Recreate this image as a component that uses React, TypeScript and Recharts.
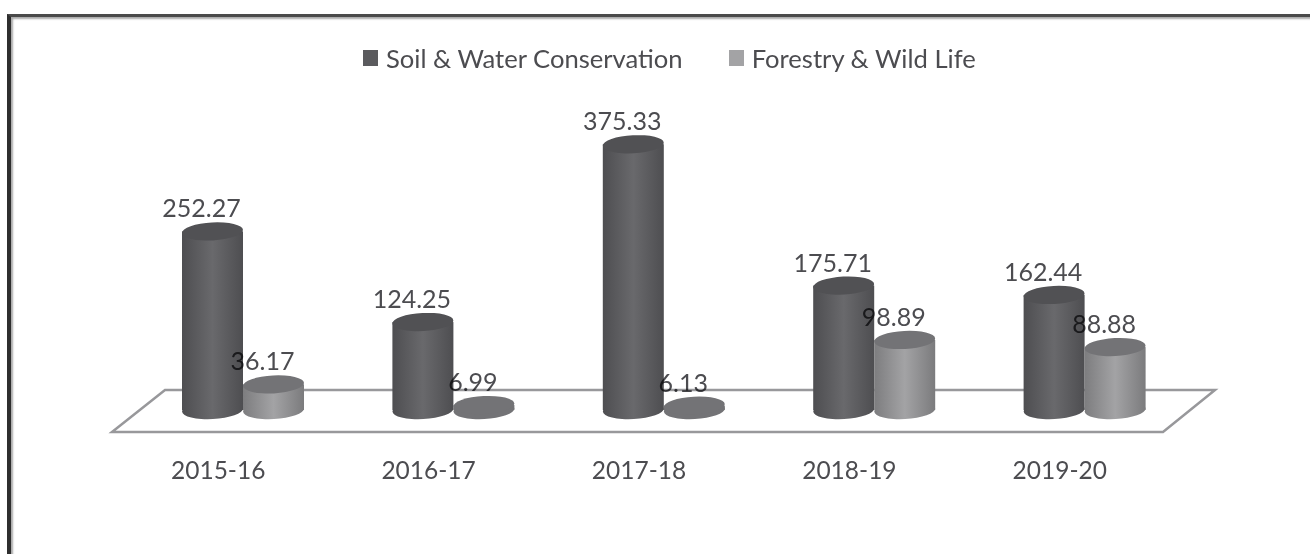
import React from "react";
import { BarChart, Bar, XAxis, YAxis, Legend, LabelList } from "recharts";

const categories = ["2015-16", "2016-17", "2017-18", "2018-19", "2019-20"];
const soilWater = [252.27, 124.25, 375.33, 175.71, 162.44];
const forestry = [36.17, 6.99, 6.13, 98.89, 88.88];
const rows = categories.map((c, i) => ({ category: c, soil: soilWater[i], forestry: forestry[i] }));

const FONT = "Lato, 'Open Sans', sans-serif";
const TEXT = "#4c4c50";
const RY = 9;

const palette: Record<string, { top: string; id: string }> = {
  soil: { top: "#515154", id: "soilBody" },
  forestry: { top: "#737376", id: "forestryBody" },
};

const Cylinder = (seriesKey: string) => (props: any) => {
  const { x, y, width, height } = props;
  const p = palette[seriesKey];
  const rx = width / 2;
  const cx = x + rx;
  const base = y + height;
  const tilt = (yy: number) => `rotate(-3 ${cx} ${yy})`;
  const bodyFill = height < 8 ? p.top : `url(#${p.id})`;
  return (
    <g>
      <ellipse cx={cx} cy={base} rx={rx} ry={RY} fill={bodyFill} transform={tilt(base)} />
      <rect x={x} y={y} width={width} height={height} fill={bodyFill} />
      <ellipse cx={cx} cy={y} rx={rx} ry={RY} fill={p.top} transform={tilt(y)} />
    </g>
  );
};

const ValueLabel = (props: any) => {
  const { x, y, width, value } = props;
  return (
    <text
      x={x + width / 2 - 11}
      y={y - 24}
      textAnchor="middle"
      dominantBaseline="central"
      fontFamily={FONT}
      fontSize={25}
      fill={TEXT}
      style={{ mixBlendMode: "multiply" }}
    >
      {Number(value).toFixed(2)}
    </text>
  );
};

const LegendContent = (props: any) => (
  <div style={{ display: "flex", alignItems: "center", fontFamily: FONT, fontSize: 25.6, color: TEXT, whiteSpace: "nowrap" }}>
    {(props.payload || []).map((item: any, i: number) => (
      <span key={item.value} style={{ display: "flex", alignItems: "center", marginRight: i === 0 ? 46 : 0 }}>
        <span style={{ width: 15, height: 16, background: item.color, display: "inline-block", marginRight: 8 }} />
        {item.value}
      </span>
    ))}
  </div>
);

export default function App() {
  return (
    <div style={{ position: "absolute", left: 0, top: 0, width: 1310, height: 554, background: "#fff", overflow: "hidden" }}>
      <div
        style={{
          position: "absolute", left: 7, top: 14, width: 1303, height: 540, boxSizing: "border-box",
          borderTop: "3px solid #4a4a4a", borderLeft: "4px solid #2e2e2e",
          boxShadow: "inset 2px 2px 2px #aaa",
        }}
      />
      <div style={{ position: "absolute", left: 0, top: 0, filter: "blur(0.7px)" }}>
        <BarChart
          width={1310}
          height={554}
          data={rows}
          barSize={61}
          barGap={0}
          margin={{ top: 56, right: 120, bottom: 0, left: 138 }}
        >
          <defs>
            <linearGradient id="soilBody" x1="0" y1="0" x2="1" y2="0">
              <stop offset="0" stopColor="#4e4e51" />
              <stop offset="0.5" stopColor="#69696c" />
              <stop offset="1" stopColor="#4e4e51" />
            </linearGradient>
            <linearGradient id="forestryBody" x1="0" y1="0" x2="1" y2="0">
              <stop offset="0" stopColor="#7d7d7f" />
              <stop offset="0.5" stopColor="#a3a3a5" />
              <stop offset="1" stopColor="#7b7b7d" />
            </linearGradient>
          </defs>
          <polygon points="165,390 1215,390 1163,432 112,432" fill="none" stroke="#98989b" strokeWidth={2.5} />
          <XAxis
            dataKey="category"
            axisLine={false}
            tickLine={false}
            height={144}
            interval={0}
            tickMargin={46}
            tick={{ dx: -25, fontFamily: FONT, fontSize: 24.5, fill: TEXT }}
          />
          <YAxis hide domain={[0, 500]} />
          <Legend
            verticalAlign="middle"
            align="center"
            itemSorter={null}
            wrapperStyle={{ position: "absolute", left: 363, top: 43, width: "auto" }}
            content={LegendContent}
          />
          <Bar dataKey="soil" name="Soil & Water Conservation" fill="#5b5b5e" isAnimationActive={false} shape={Cylinder("soil")}>
            <LabelList dataKey="soil" content={ValueLabel} />
          </Bar>
          <Bar dataKey="forestry" name="Forestry & Wild Life" fill="#a3a3a5" isAnimationActive={false} shape={Cylinder("forestry")}>
            <LabelList dataKey="forestry" content={ValueLabel} />
          </Bar>
        </BarChart>
      </div>
    </div>
  );
}
